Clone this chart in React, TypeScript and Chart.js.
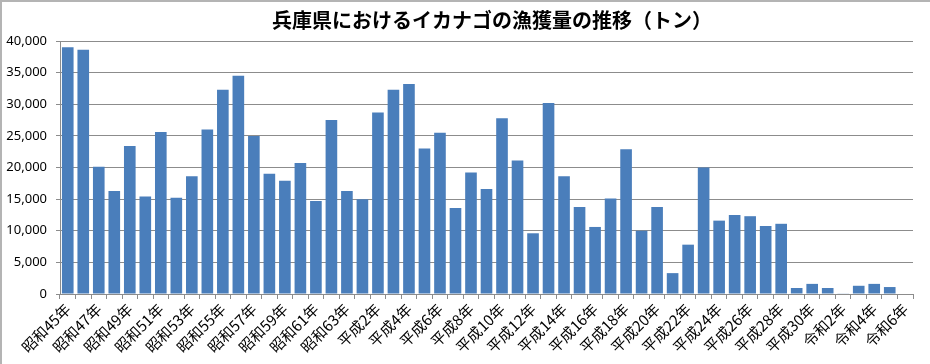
import React, { useEffect, useRef } from "react";
import { Chart, registerables } from "chart.js";

Chart.register(...registerables);

const TITLE = "兵庫県におけるイカナゴの漁獲量の推移（トン）";

const categories: string[] = [
  "昭和45年", "昭和46年", "昭和47年", "昭和48年", "昭和49年", "昭和50年", "昭和51年", "昭和52年",
  "昭和53年", "昭和54年", "昭和55年", "昭和56年", "昭和57年", "昭和58年", "昭和59年", "昭和60年",
  "昭和61年", "昭和62年", "昭和63年", "平成元年", "平成2年", "平成3年", "平成4年", "平成5年",
  "平成6年", "平成7年", "平成8年", "平成9年", "平成10年", "平成11年", "平成12年", "平成13年",
  "平成14年", "平成15年", "平成16年", "平成17年", "平成18年", "平成19年", "平成20年", "平成21年",
  "平成22年", "平成23年", "平成24年", "平成25年", "平成26年", "平成27年", "平成28年", "平成29年",
  "平成30年", "令和元年", "令和2年", "令和3年", "令和4年", "令和5年", "令和6年",
];

const catchTons: number[] = [
  39000, 38600, 20100, 16300, 23400, 15400, 25600, 15200,
  18600, 26000, 32300, 34500, 25000, 19000, 17900, 20700,
  14700, 27500, 16300, 15000, 28700, 32300, 33200, 23000,
  25500, 13600, 19200, 16600, 27800, 21100, 9600, 30200,
  18600, 13750, 10600, 15100, 22900, 10000, 13750, 3300,
  7800, 20000, 11600, 12500, 12300, 10750, 11100, 950,
  1600, 950, 100, 1300, 1600, 1100, 0,
];

const yTicks: number[] = [0, 5000, 10000, 15000, 20000, 25000, 30000, 35000, 40000];

export default function App() {
  const ref = useRef<HTMLCanvasElement | null>(null);

  useEffect(() => {
    document.body.style.margin = "0";
    const canvas = ref.current;
    if (!canvas) return;

    const framePlugin = {
      id: "frameAndTitle",
      afterDraw(chart: any) {
        const ctx = chart.ctx;
        ctx.save();
        ctx.strokeStyle = "#b4b4b4";
        ctx.lineWidth = 2;
        ctx.beginPath();
        ctx.moveTo(1, 364);
        ctx.lineTo(1, 1);
        ctx.lineTo(930, 1);
        ctx.stroke();
        ctx.fillStyle = "#000";
        ctx.font = "bold 20px 'Noto Sans CJK JP'";
        ctx.textAlign = "center";
        ctx.textBaseline = "middle";
        ctx.fillText(TITLE, 492, 20);
        ctx.restore();
      },
    };

    const chart = new Chart(canvas, {
      type: "bar",
      data: {
        labels: categories,
        datasets: [
          {
            data: catchTons,
            backgroundColor: "#4a7ebb",
            borderWidth: 0,
            categoryPercentage: 1,
            barPercentage: 0.75,
          },
        ],
      },
      options: {
        animation: false,
        responsive: false,
        locale: "en-US",
        layout: { padding: { top: 41, right: 17, left: 0, bottom: 0 } },
        plugins: {
          legend: { display: false },
          title: { display: false },
          tooltip: { enabled: false },
        },
        scales: {
          x: {
            grid: {
              display: true,
              drawOnChartArea: false,
              drawTicks: true,
              tickLength: 5,
              color: "#8c8c8c",
              offset: true,
            },
            border: { display: true, color: "#8c8c8c" },
            ticks: {
              autoSkip: false,
              maxRotation: 45,
              minRotation: 45,
              padding: 1,
              color: "#000",
              font: { family: "'Noto Sans CJK JP'", size: 15 },
              callback: (_v: any, i: number) => (i % 2 === 0 ? categories[i] : ""),
            },
            afterFit: (scale: any) => {
              scale.height = 70;
            },
          },
          y: {
            min: 0,
            max: 40000,
            afterBuildTicks: (scale: any) => {
              scale.ticks = yTicks.map((v) => ({ value: v }));
            },
            grid: {
              color: "#8c8c8c",
              drawTicks: true,
              tickLength: 4,
            },
            border: { display: true, color: "#8c8c8c" },
            ticks: {
              padding: 9,
              color: "#000",
              font: { family: "'Noto Sans'", size: 13 },
              callback: (v: any) => Number(v).toLocaleString("en-US"),
            },
            afterFit: (scale: any) => {
              scale.width = 60;
            },
          },
        },
      },
      plugins: [framePlugin],
    });

    return () => chart.destroy();
  }, []);

  return <canvas ref={ref} width={930} height={364} style={{ display: "block" }} />;
}
